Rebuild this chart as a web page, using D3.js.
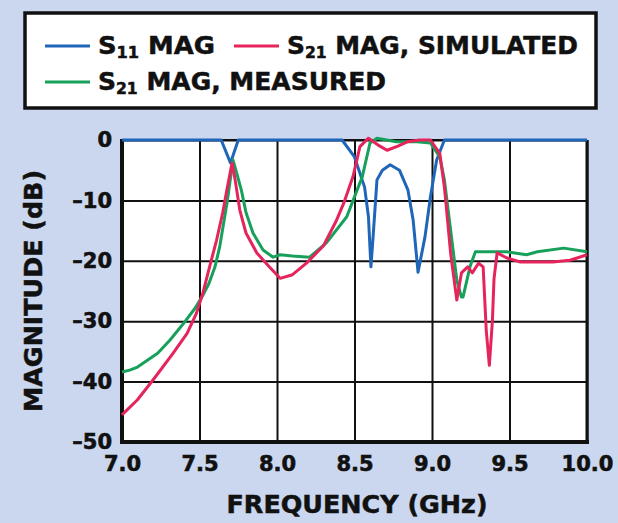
<!DOCTYPE html>
<html>
<head>
<meta charset="utf-8">
<script src="https://cdn.jsdelivr.net/npm/d3@7"></script>
<style>
  body { margin: 0; background: #cad7ee; }
  svg { display: block; }
  text { font-family: "DejaVu Sans", "Liberation Sans", sans-serif; font-weight: bold; fill: #111; }
</style>
</head>
<body>
<div id="chart"></div>
<script>
// ticks
const xTicks = [7.0, 7.5, 8.0, 8.5, 9.0, 9.5, 10.0];
const yTicks = [0, -10, -20, -30, -40, -50];

// S11 magnitude
const s11Freq = [7.0, 7.64, 7.70, 7.75, 8.42, 8.50, 8.565, 8.59, 8.606, 8.62, 8.645, 8.68, 8.73, 8.79, 8.845, 8.878, 8.91, 8.955, 8.99, 9.03, 9.08, 10.0];
const s11Mag = [0, 0, -3.8, 0, 0, -2.8, -7.8, -12.7, -21.0, -16, -6.6, -5.0, -4.1, -5.0, -8.3, -13.2, -21.9, -16, -9.4, -3.3, 0, 0];

// S21 magnitude, simulated
const simFreq = [7.0, 7.10, 7.21, 7.33, 7.42, 7.48, 7.52, 7.56, 7.61, 7.65, 7.68, 7.71, 7.73, 7.76, 7.80, 7.87, 7.95, 8.02, 8.10, 8.19, 8.30, 8.38, 8.43, 8.49, 8.535, 8.59, 8.65, 8.71, 8.78, 8.84, 8.92, 8.99, 9.05, 9.08, 9.10, 9.12, 9.16, 9.19, 9.23, 9.26, 9.30, 9.33, 9.35, 9.37, 9.39, 9.40, 9.42, 9.48, 9.57, 9.78, 9.89, 10.0];
const simMag = [-45.5, -43, -39.4, -35.3, -32, -28.7, -25.5, -21.5, -16.6, -12, -7.8, -3.8, -6.6, -11.6, -15.4, -18.7, -21, -22.9, -22.3, -20.4, -17.5, -13.5, -10.5, -6.1, -1.1, 0.3, -0.8, -1.7, -1.0, -0.3, 0, 0, -2.2, -7.8, -13.2, -18.7, -26.5, -22, -21, -22, -20.4, -21, -31.5, -37.3, -29.8, -23, -18.7, -19.5, -20.2, -20.2, -19.9, -19];

// S21 magnitude, measured
const measFreq = [7.0, 7.05, 7.10, 7.23, 7.31, 7.39, 7.47, 7.52, 7.56, 7.60, 7.63, 7.68, 7.716, 7.74, 7.77, 7.80, 7.845, 7.91, 7.975, 8.02, 8.10, 8.21, 8.32, 8.45, 8.55, 8.60, 8.645, 8.77, 8.90, 8.99, 9.05, 9.08, 9.12, 9.16, 9.19, 9.20, 9.245, 9.28, 9.48, 9.61, 9.68, 9.85, 10.0];
const measMag = [-38.4, -38.1, -37.6, -35.3, -33.1, -30.6, -27.9, -25.8, -23.8, -21, -17.7, -10, -3.3, -5.5, -8.3, -12, -15.4, -18.2, -19.4, -19, -19.2, -19.4, -17, -12.7, -6.1, -0.5, 0.3, -0.3, -0.3, -0.5, -2.8, -6.6, -14.9, -23.2, -26, -26, -21, -18.5, -18.5, -19, -18.5, -17.9, -18.5];

const series = [
  { name: "s11", freq: s11Freq, mag: s11Mag, color: "#1f66b8" },
  { name: "meas", freq: measFreq, mag: measMag, color: "#17a05a" },
  { name: "sim", freq: simFreq, mag: simMag, color: "#e6245c" }
];

const width = 618, height = 523;
const margin = { top: 140, right: 31, bottom: 81, left: 122 };
const w = width - margin.left - margin.right;
const h = height - margin.top - margin.bottom;

const svg = d3.select("#chart").append("svg")
  .attr("width", width)
  .attr("height", height);

const g = svg.append("g")
  .attr("transform", `translate(${margin.left},${margin.top})`);

const x = d3.scaleLinear().domain([7, 10]).range([0, w]);
const y = d3.scaleLinear().domain([-50, 0]).range([h, 0]);

g.append("rect")
  .attr("width", w)
  .attr("height", h)
  .attr("fill", "white");

// grid + labels through axes
const xAxis = g.append("g")
  .attr("transform", `translate(0,${h})`)
  .call(d3.axisBottom(x).tickValues(xTicks).tickFormat(d3.format(".1f")).tickSizeInner(-h).tickSizeOuter(0).tickPadding(14));

const yAxis = g.append("g")
  .call(d3.axisLeft(y).tickValues(yTicks).tickFormat(d => d === 0 ? "0" : "\u2013" + Math.abs(d)).tickSizeInner(-w).tickSizeOuter(0).tickPadding(10));

[xAxis, yAxis].forEach(a => {
  a.select(".domain").remove();
  a.selectAll(".tick line").attr("stroke", "#111").attr("stroke-width", 2);
  a.selectAll(".tick text")
    .style("font-size", "21px")
    .style("font-family", "'DejaVu Sans', sans-serif")
    .style("font-weight", "bold")
    .attr("fill", "#111")
    .attr("stroke", "#111")
    .attr("stroke-width", 0.6);
});

// frame
g.append("line").attr("x1", 0).attr("x2", 0).attr("y1", -1).attr("y2", h + 2)
  .attr("stroke", "#111").attr("stroke-width", 4);
g.append("line").attr("x1", -2).attr("x2", w + 2).attr("y1", h).attr("y2", h)
  .attr("stroke", "#111").attr("stroke-width", 4);
g.append("line").attr("x1", w).attr("x2", w).attr("y1", 0).attr("y2", h)
  .attr("stroke", "#111").attr("stroke-width", 3);
g.append("line").attr("x1", 0).attr("x2", w).attr("y1", 0).attr("y2", 0)
  .attr("stroke", "#111").attr("stroke-width", 2);

const line = d3.line()
  .x(d => x(d[0]))
  .y(d => y(d[1]));

series.forEach(s => {
  g.append("path")
    .datum(s.freq.map((f, i) => [f, s.mag[i]]))
    .attr("fill", "none")
    .attr("stroke", s.color)
    .attr("stroke-width", 3)
    .attr("stroke-linejoin", "round")
    .attr("d", line);
});

// axis titles
svg.append("text")
  .attr("x", 357)
  .attr("y", 513)
  .attr("text-anchor", "middle")
  .attr("textLength", 261)
  .attr("lengthAdjust", "spacingAndGlyphs")
  .attr("stroke", "#111").attr("stroke-width", 0.5)
  .style("font-size", "24px")
  .text("FREQUENCY (GHz)");

svg.append("text")
  .attr("transform", "translate(42,291) rotate(-90)")
  .attr("text-anchor", "middle")
  .attr("textLength", 242)
  .attr("lengthAdjust", "spacingAndGlyphs")
  .attr("stroke", "#111").attr("stroke-width", 0.5)
  .style("font-size", "25px")
  .text("MAGNITUDE (dB)");

// Legend
const legend = svg.append("g");
legend.append("rect")
  .attr("x", 25).attr("y", 13)
  .attr("width", 571).attr("height", 95)
  .attr("fill", "white")
  .attr("stroke", "#111")
  .attr("stroke-width", 3.5);

const legendItems = [
  { x: 45, y: 46, color: "#1f66b8", sub: "11", rest: " MAG", len: 117 },
  { x: 234, y: 46, color: "#e6245c", sub: "21", rest: " MAG, SIMULATED", len: 291 },
  { x: 45, y: 82, color: "#17a05a", sub: "21", rest: " MAG, MEASURED", len: 288 }
];

legendItems.forEach(it => {
  legend.append("line")
    .attr("x1", it.x).attr("x2", it.x + 45)
    .attr("y1", it.y).attr("y2", it.y)
    .attr("stroke", it.color)
    .attr("stroke-width", 3);
  const t = legend.append("text")
    .attr("x", it.x + 53)
    .attr("y", it.y + 7.5)
    .attr("textLength", it.len)
    .attr("lengthAdjust", "spacingAndGlyphs")
    .attr("stroke", "#111").attr("stroke-width", 0.5)
    .style("font-size", "24px");
  t.append("tspan").text("S");
  t.append("tspan").attr("dy", 4).style("font-size", "15px").text(it.sub);
  t.append("tspan").attr("dy", -4).text(it.rest);
});
</script>
</body>
</html>
